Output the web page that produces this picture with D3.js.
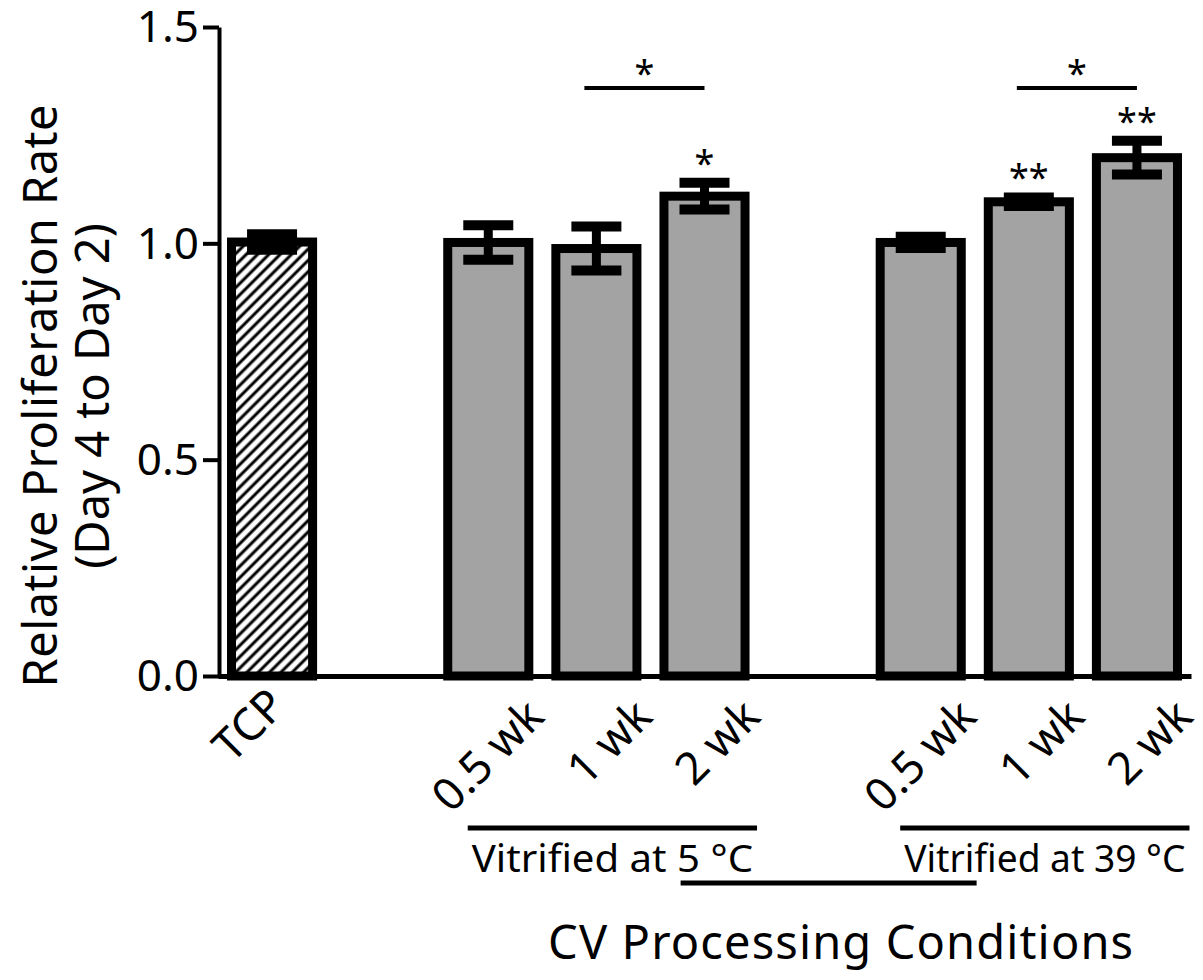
<!DOCTYPE html>
<html lang="en">
<head>
<meta charset="UTF-8">
<title>Relative Proliferation Rate</title>
<script src="https://cdn.jsdelivr.net/npm/d3@7"></script>
<style>
  body { margin: 0; background: #fff; }
  text { font-family: "Noto Sans", "Open Sans", sans-serif; fill: #000; }
</style>
</head>
<body>
<div id="chart"></div>
<script>

    // slots along the x axis, the two gaps keep the groups apart
    const slots = ["TCP", "gap1", "5-0.5", "5-1", "5-2", "gap2", "39-0.5", "39-1", "39-2"];

    const keys = ["TCP", "5-0.5", "5-1", "5-2", "39-0.5", "39-1", "39-2"];
    const labels = ["TCP", "0.5 wk", "1 wk", "2 wk", "0.5 wk", "1 wk", "2 wk"];
    const means = [1.003, 1.002, 0.988, 1.109, 1.002, 1.096, 1.198];
    const errors = [0.018, 0.040, 0.051, 0.031, 0.013, 0.010, 0.039];
    const barStars = ["", "", "", "*", "", "**", "**"];

    const yTicks = [0, 0.5, 1.0, 1.5];

    const brackets = [
        {from: "5-1", to: "5-2", label: "*"},
        {from: "39-1", to: "39-2", label: "*"}
    ];

    const groupNames = ["Vitrified at 5 \u00B0C", "Vitrified at 39 \u00B0C"];
    const groupKeys = [["5-0.5", "5-2"], ["39-0.5", "39-2"]];
    const xTitle = "CV Processing Conditions";
    const yTitle = ["Relative Proliferation Rate", "(Day 4 to Day 2)"];

    const width = 1203, height = 980;

    const svg = d3.select("#chart")
        .append("svg")
        .attr("width", width)
        .attr("height", height);

    const x = d3.scaleBand()
        .domain(slots)
        .range([218, 1191])
        .paddingInner(0.25)
        .paddingOuter(0.125);

    const y = d3.scaleLinear()
        .domain([0, 1.5])
        .range([676, 27]);

    // hatch for the TCP control bar
    svg.append("defs")
        .append("pattern")
        .attr("id", "hatch")
        .attr("patternUnits", "userSpaceOnUse")
        .attr("width", 8)
        .attr("height", 8)
        .attr("patternTransform", "rotate(45)")
        .call(function(p) {
            p.append("rect").attr("width", 8).attr("height", 8).attr("fill", "#fff");
            p.append("line")
                .attr("x1", 2).attr("x2", 2)
                .attr("y1", 0).attr("y2", 8)
                .attr("stroke", "#000")
                .attr("stroke-width", 3);
        });

    const data = keys.map(function(k, i) {
        return {key: k, label: labels[i], mean: means[i], err: errors[i], star: barStars[i]};
    });

    // bars
    svg.selectAll("rect.bar")
        .data(data)
        .enter()
        .append("rect")
        .attr("class", "bar")
        .attr("x", function(d) { return x(d.key); })
        .attr("width", x.bandwidth())
        .attr("y", function(d) { return y(d.mean); })
        .attr("height", function(d) { return y(0) - y(d.mean); })
        .attr("fill", function(d) { return d.key === "TCP" ? "url(#hatch)" : "#a3a3a3"; })
        .attr("stroke", "#000")
        .attr("stroke-width", 9);

    // error bars
    const capHalf = 25;
    const err = svg.selectAll("g.err")
        .data(data)
        .enter()
        .append("g")
        .attr("class", "err")
        .attr("stroke", "#000")
        .attr("stroke-width", 10);

    err.append("line")
        .attr("x1", function(d) { return x(d.key) + x.bandwidth() / 2; })
        .attr("x2", function(d) { return x(d.key) + x.bandwidth() / 2; })
        .attr("y1", function(d) { return y(d.mean + d.err); })
        .attr("y2", function(d) { return y(d.mean - d.err); })
        .attr("stroke-width", 9);

    err.append("line")
        .attr("x1", function(d) { return x(d.key) + x.bandwidth() / 2 - capHalf; })
        .attr("x2", function(d) { return x(d.key) + x.bandwidth() / 2 + capHalf; })
        .attr("y1", function(d) { return y(d.mean + d.err); })
        .attr("y2", function(d) { return y(d.mean + d.err); });

    err.append("line")
        .attr("x1", function(d) { return x(d.key) + x.bandwidth() / 2 - capHalf; })
        .attr("x2", function(d) { return x(d.key) + x.bandwidth() / 2 + capHalf; })
        .attr("y1", function(d) { return y(d.mean - d.err); })
        .attr("y2", function(d) { return y(d.mean - d.err); });

    // stars above bars
    svg.selectAll("text.star")
        .data(data.filter(function(d) { return d.star !== ""; }))
        .enter()
        .append("text")
        .attr("class", "star")
        .attr("x", function(d) { return x(d.key) + x.bandwidth() / 2; })
        .attr("y", function(d) { return y(d.mean + d.err) - 7; })
        .attr("text-anchor", "middle")
        .style("font-size", "36px")
        .text(function(d) { return d.star; });

    // comparison brackets
    brackets.forEach(function(b) {
        const x1 = x(b.from) + x.bandwidth() / 2 - 12;
        const x2 = x(b.to) + x.bandwidth() / 2;
        svg.append("line")
            .attr("x1", x1).attr("x2", x2)
            .attr("y1", 88).attr("y2", 88)
            .attr("stroke", "#000")
            .attr("stroke-width", 4);
        svg.append("text")
            .attr("x", (x1 + x2) / 2)
            .attr("y", 86)
            .attr("text-anchor", "middle")
            .style("font-size", "36px")
            .text(b.label);
    });

    // y axis
    const yAxis = svg.append("g")
        .attr("transform", "translate(219,0)")
        .call(d3.axisLeft(y)
            .tickValues(yTicks)
            .tickFormat(d3.format(".1f"))
            .tickSize(16)
            .tickSizeOuter(0)
            .tickPadding(4));
    yAxis.select(".domain").attr("stroke-width", 4);
    yAxis.selectAll(".tick line").attr("stroke-width", 4);
    yAxis.selectAll(".tick text")
        .style("font-size", "44px")
        .attr("dy", "0.34em");

    // x axis
    const xAxis = svg.append("g")
        .attr("transform", "translate(0," + y(0) + ")")
        .call(d3.axisBottom(x)
            .tickValues(keys)
            .tickFormat(function(k) { return labels[keys.indexOf(k)]; })
            .tickSize(0)
            .tickSizeOuter(0));
    xAxis.select(".domain").attr("stroke-width", 5);
    xAxis.selectAll(".tick text")
        .style("font-size", "45px")
        .attr("text-anchor", "end")
        .attr("dy", null)
        .attr("y", 0)
        .attr("transform", function(k) {
            // the control label sits closer to its bar than the group labels
            return k === "TCP" ? "translate(16,32) rotate(-45)" : "translate(58,43) rotate(-45)";
        });

    // group labels
    const groupLine = [];
    groupKeys.forEach(function(g, i) {
        const x1 = x(g[0]) + 20;
        const x2 = x(g[1]) + x.bandwidth() + 12;
        groupLine.push([x1, x2]);
        svg.append("line")
            .attr("x1", x1).attr("x2", x2)
            .attr("y1", 828).attr("y2", 828)
            .attr("stroke", "#000")
            .attr("stroke-width", 5);
        svg.append("text")
            .attr("x", (x1 + x2) / 2)
            .attr("y", 872)
            .attr("text-anchor", "middle")
            .attr("textLength", x2 - x1 - 8)
            .attr("lengthAdjust", "spacingAndGlyphs")
            .style("font-size", "39px")
            .text(groupNames[i]);
    });

    const mid = ((groupLine[0][0] + groupLine[0][1]) / 2 + (groupLine[1][0] + groupLine[1][1]) / 2) / 2;
    svg.append("line")
        .attr("x1", mid - 148).attr("x2", mid + 148)
        .attr("y1", 883).attr("y2", 883)
        .attr("stroke", "#000")
        .attr("stroke-width", 5);
    svg.append("text")
        .attr("x", mid + 12)
        .attr("y", 959)
        .attr("text-anchor", "middle")
        .attr("textLength", 585)
        .attr("lengthAdjust", "spacing")
        .style("font-size", "47px")
        .text(xTitle);

    // y title
    svg.selectAll("text.ytitle")
        .data(yTitle)
        .enter()
        .append("text")
        .attr("class", "ytitle")
        .attr("text-anchor", "middle")
        .attr("transform", function(d, i) {
            return "translate(" + (57 + i * 52) + ",396) rotate(-90)";
        })
        .attr("textLength", function(d, i) { return i === 0 ? 583 : null; })
        .attr("lengthAdjust", "spacing")
        .style("font-size", "47px")
        .text(function(d) { return d; });

</script>
</body>
</html>
